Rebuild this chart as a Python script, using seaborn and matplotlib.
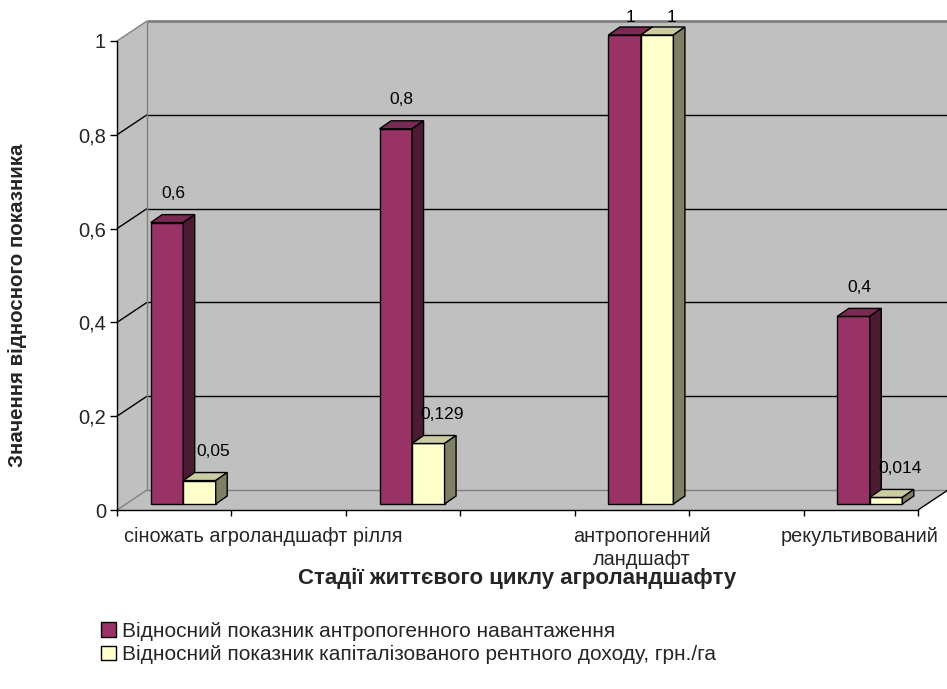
import numpy as np
import pandas as pd
import matplotlib
matplotlib.use("Agg")
import matplotlib.pyplot as plt
import matplotlib.colors as mcolors
import seaborn as sns
from matplotlib.patches import Polygon, Rectangle
from matplotlib.lines import Line2D
from matplotlib.transforms import ScaledTranslation

# ---------------- data ----------------
slots = ["сіножать", "_g1", "рілля", "_g3", "антропогенний ландшафт", "_g5", "рекультивований"]
stages = ["сіножать", "рілля", "антропогенний ландшафт", "рекультивований"]
load_values = [0.6, 0.8, 1.0, 0.4]
rent_values = [0.05, 0.129, 1.0, 0.014]
series_names = ["Відносний показник антропогенного навантаження",
                "Відносний показник капіталізованого рентного доходу, грн./га"]
x_tick_labels = ["сіножать агроландшафт рілля", "антропогенний\nландшафт", "рекультивований"]
x_tick_label_pos = [0.776, 4.088, 5.993]
y_ticks = [0, 0.2, 0.4, 0.6, 0.8, 1.0]
y_tick_labels = ["0", "0,2", "0,4", "0,6", "0,8", "1"]
x_title = "Стадії життєвого циклу агроландшафту"
y_title = "Значення відносного показника"

df = pd.DataFrame({
    "stage": stages * 2,
    "series": [series_names[0]] * 4 + [series_names[1]] * 4,
    "value": load_values + rent_values,
})

# ---------------- style ----------------
sns.set_style("white")
plt.rcParams["font.family"] = ["Liberation Sans", "DejaVu Sans"]

W, H, DPI = 947, 689, 100
fig = plt.figure(figsize=(W / DPI, H / DPI), dpi=DPI)
fig.patch.set_facecolor("white")

# front plane axes (pixel geometry)
ax_left, ax_right, ax_top, ax_bottom = 117, 918, 41, 510
ax = fig.add_axes([ax_left / W, 1 - ax_bottom / H, (ax_right - ax_left) / W, (ax_bottom - ax_top) / H])
ax.patch.set_visible(False)

maroon_front, maroon_top, maroon_side = "#993366", "#7A2952", "#4D1A33"
yellow_front, yellow_top, yellow_side = "#FFFFCC", "#CCCCA3", "#7F7F66"
wall_color = "#C0C0C0"

sns.barplot(data=df, x="stage", y="value", hue="series", order=slots,
            hue_order=series_names, palette=[maroon_front, yellow_front],
            width=0.568, edgecolor="black", linewidth=1.0, saturation=1,
            errorbar=None, ax=ax)
bars = [p for p in ax.patches if isinstance(p, Rectangle) and p.get_height() > 0]

ax.set_xlim(-0.5, len(slots) - 0.5)
ax.set_ylim(0, 1)

# offsets (pixels) for pseudo-3D planes
bar_off = (9, 6)
depth = (11.5, 8)
wall_off = (30, 20)

def shifted(off):
    return ax.transData + ScaledTranslation(off[0] / DPI, off[1] / DPI, fig.dpi_scale_trans)

bar_tr = shifted(bar_off)
wall_tr = shifted(wall_off)
front_tr = ax.transData

def disp(tr, x, y):
    return tr.transform((x, y))

x_lo, x_hi = -0.5, len(slots) - 0.5

# back wall, left wall, floor
back_wall = [disp(wall_tr, x_lo, 0), disp(wall_tr, x_hi, 0), disp(wall_tr, x_hi, 1), disp(wall_tr, x_lo, 1)]
left_wall = [disp(front_tr, x_lo, 0), disp(front_tr, x_lo, 1), disp(wall_tr, x_lo, 1), disp(wall_tr, x_lo, 0)]
floor = [disp(front_tr, x_lo, 0), disp(front_tr, x_hi, 0), disp(wall_tr, x_hi, 0), disp(wall_tr, x_lo, 0)]
for poly in (back_wall, left_wall, floor):
    ax.add_artist(Polygon(poly, closed=True, transform=None, facecolor=wall_color,
                          edgecolor="none", zorder=0.2, clip_on=False))

def seg(p, q, color, lw, z=0.5):
    ax.add_artist(Line2D([p[0], q[0]], [p[1], q[1]], transform=None, color=color,
                         lw=lw, zorder=z, clip_on=False, solid_capstyle="butt"))

for yv in y_ticks:
    inner = 0 < yv < 1
    c = "black" if inner else "#808080"
    lw = 1.0 if inner else (2.0 if yv == 1 else 1.0)
    seg(disp(wall_tr, x_lo, yv), disp(wall_tr, x_hi, yv), c, lw)
    seg(disp(front_tr, x_lo, yv), disp(wall_tr, x_lo, yv), c, 1.0)
seg(disp(wall_tr, x_lo, 0), disp(wall_tr, x_lo, 1), "#808080", 1.0)
seg(disp(front_tr, x_hi, 0), disp(wall_tr, x_hi, 0), "black", 1.0, z=2.6)

# bars: shift to the bar plane and add top/side faces
for p in bars:
    fc = mcolors.to_hex(p.get_facecolor()).lower()
    is_m = fc == maroon_front.lower()
    top_c, side_c, z = (maroon_top, maroon_side, 3) if is_m else (yellow_top, yellow_side, 4)
    x0, w, h = p.get_x(), p.get_width(), p.get_height()
    p.set_transform(bar_tr)
    p.set_clip_on(False)
    p.set_zorder(z)
    (X0, Y0), (X1, Y1) = bar_tr.transform([(x0, 0), (x0 + w, h)])
    dx, dy = depth
    top = [(X0, Y1), (X1, Y1), (X1 + dx, Y1 + dy), (X0 + dx, Y1 + dy)]
    side = [(X1, Y0), (X1, Y1), (X1 + dx, Y1 + dy), (X1 + dx, Y0 + dy)]
    for poly, col in ((top, top_c), (side, side_c)):
        ax.add_artist(Polygon(poly, closed=True, transform=None, facecolor=col,
                              edgecolor="black", lw=1.0, zorder=z, clip_on=False,
                              joinstyle="miter"))
    lab = f"{h:g}".replace(".", ",")
    lx = (X0 + X1) / 2 + (6 if is_m else 14)
    ly = min(Y1 + 29, H - 17)
    ax.text(lx, ly, lab, transform=None, ha="center", va="center", fontsize=12.5,
            color="black", zorder=6, clip_on=False)

# axes styling
for s in ("top", "right"):
    ax.spines[s].set_visible(False)
for s in ("left", "bottom"):
    ax.spines[s].set_color("black")
    ax.spines[s].set_linewidth(1.0)
    ax.spines[s].set_zorder(2.5)

ax.set_yticks(y_ticks)
ax.set_yticklabels(y_tick_labels, fontsize=14.5)
ax.tick_params(axis="y", direction="out", length=5, width=1, color="black", pad=3, left=True)
ax.set_xticks(np.arange(x_lo, x_hi + 0.01, 1.0))
ax.set_xticklabels([])
ax.set_xticks(x_tick_label_pos, minor=True)
ax.set_xticklabels(x_tick_labels, minor=True, fontsize=14.3, linespacing=1.3)
ax.tick_params(axis="x", which="major", direction="out", length=4.5, width=1, color="black", bottom=True)
ax.tick_params(axis="x", which="minor", length=0, pad=12)

ax.set_xlabel(x_title, fontsize=16, fontweight="bold")
ax.xaxis.set_label_coords(0.5, (ax_bottom - 568) / (ax_bottom - ax_top))
ax.set_ylabel(y_title, fontsize=14.8, fontweight="bold")
ax.yaxis.set_label_coords((27 - ax_left) / (ax_right - ax_left), (ax_bottom - 305) / (ax_bottom - ax_top))

sns.move_legend(ax, "upper left", bbox_to_anchor=(101 / W, 1 - 622 / H),
                bbox_transform=fig.transFigure, frameon=False, title=None,
                fontsize=15, handlelength=0.7, handleheight=0.7,
                handletextpad=0.3, labelspacing=0.2, borderpad=0, borderaxespad=0)
leg = ax.get_legend()
for hnd in leg.legend_handles:
    hnd.set_edgecolor("black")
    hnd.set_linewidth(1.0)

fig.savefig("out.png", dpi=DPI)
